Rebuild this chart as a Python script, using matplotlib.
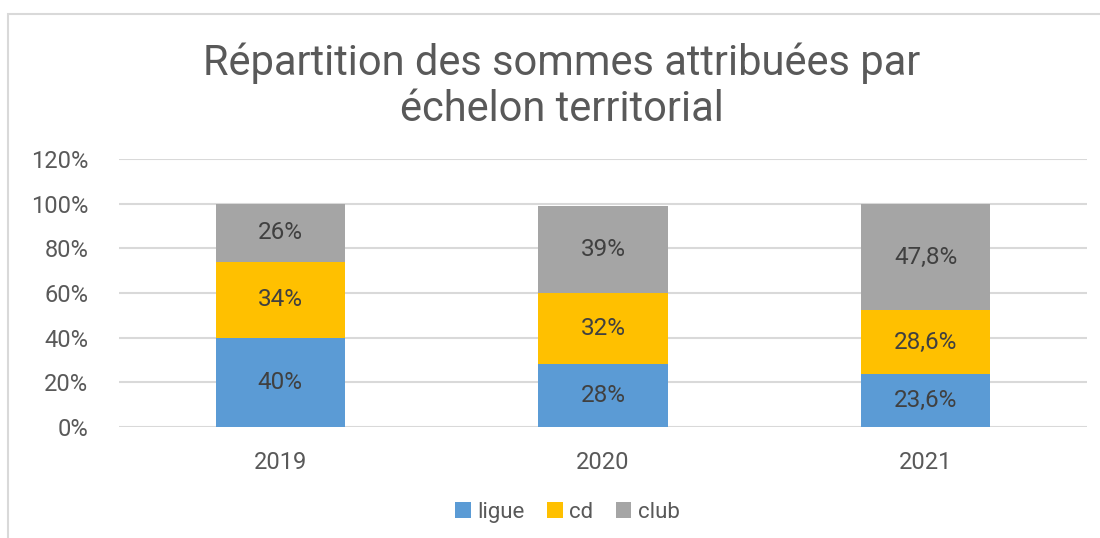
import matplotlib.pyplot as plt
from matplotlib.patches import Rectangle

years = ['2019', '2020', '2021']
ligue = [40, 28, 23.6]
cd = [34, 32, 28.6]
club = [26, 39, 47.8]
labels_ligue = ['40%', '28%', '23,6%']
labels_cd = ['34%', '32%', '28,6%']
labels_club = ['26%', '39%', '47,8%']
yticks = [0, 20, 40, 60, 80, 100, 120]

plt.rcParams['font.family'] = ['Roboto', 'DejaVu Sans']

fig = plt.figure(figsize=(11, 5.38), dpi=100)
# chart frame (partly cropped in the reference)
fig.patches.append(Rectangle((8 / 1100, -0.1), 1.2, (538 - 14) / 538 + 0.1,
                             transform=fig.transFigure, fill=False,
                             edgecolor='#D9D9D9', linewidth=1.5))
ax = fig.add_axes([119 / 1100, 111 / 538, 968 / 1100, 268 / 538])

x = range(len(years))
w = 0.4
colors = ['#5B9BD5', '#FFC000', '#A5A5A5']
bottoms = [0, 0, 0]
for vals, labs, col, name in [(ligue, labels_ligue, colors[0], 'ligue'),
                               (cd, labels_cd, colors[1], 'cd'),
                               (club, labels_club, colors[2], 'club')]:
    bars = ax.bar(x, vals, w, bottom=bottoms, color=col, label=name, zorder=3)
    for i, b in enumerate(bars):
        ax.text(b.get_x() + b.get_width() / 2, bottoms[i] + vals[i] / 2, labs[i],
                ha='center', va='center', fontsize=17.5, color='#404040', zorder=4)
    bottoms = [bottoms[i] + vals[i] for i in range(len(vals))]

ax.set_xlim(-0.5, 2.5)
ax.set_ylim(0, 120)
ax.set_yticks(yticks)
ax.set_yticklabels([str(t) + '%' for t in yticks])
ax.set_xticks(list(x))
ax.set_xticklabels(years)
ax.tick_params(axis='both', length=0, labelsize=17, labelcolor='#595959')
ax.tick_params(axis='y', pad=22)
ax.tick_params(axis='x', pad=17)
ax.grid(axis='y', color='#D9D9D9', linewidth=1.5, zorder=0)
for s in ax.spines.values():
    s.set_visible(False)

fig.text(0.511, 0.84, 'Répartition des sommes attribuées par\néchelon territorial',
         ha='center', va='center', fontsize=30, color='#595959', linespacing=1.15)

fig.legend(loc='center', bbox_to_anchor=(0.516, 0.048), ncol=3, frameon=False,
           fontsize=16, labelcolor='#595959', handlelength=0.7, handleheight=0.7,
           handletextpad=0.3, columnspacing=1.0)

plt.savefig('out.png', dpi=100)
